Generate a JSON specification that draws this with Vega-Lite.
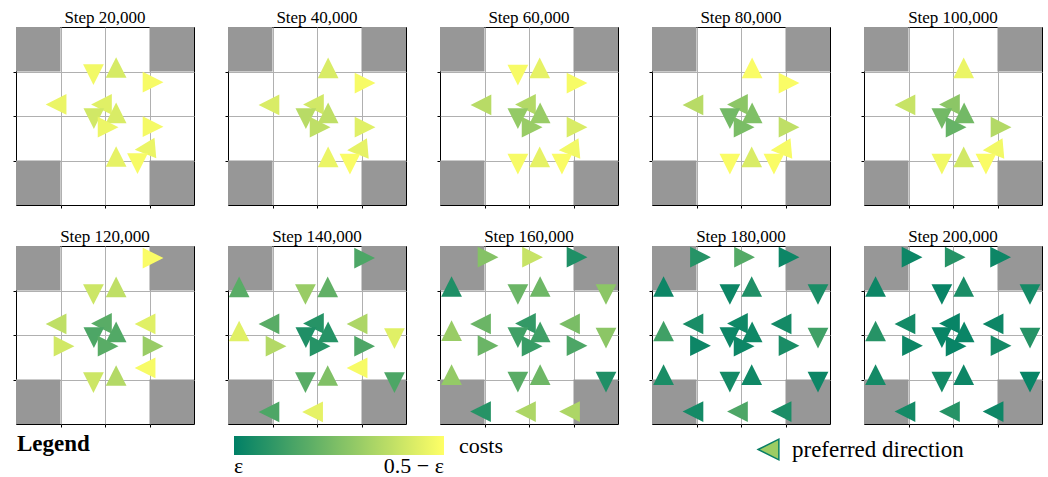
{
  "$schema": "https://vega.github.io/schema/vega-lite/v6.json",
  "padding": {"left": 12, "top": 7, "right": 5, "bottom": 5},
  "background": "white",
  "data": {"values": [
    {"panel":"Step 20,000","kind":"wall","x":0,"x2":1,"y":0,"y2":1},
    {"panel":"Step 20,000","kind":"wall","x":3,"x2":4,"y":0,"y2":1},
    {"panel":"Step 20,000","kind":"wall","x":0,"x2":1,"y":3,"y2":4},
    {"panel":"Step 20,000","kind":"wall","x":3,"x2":4,"y":3,"y2":4},
    {"panel":"Step 40,000","kind":"wall","x":0,"x2":1,"y":0,"y2":1},
    {"panel":"Step 40,000","kind":"wall","x":3,"x2":4,"y":0,"y2":1},
    {"panel":"Step 40,000","kind":"wall","x":0,"x2":1,"y":3,"y2":4},
    {"panel":"Step 40,000","kind":"wall","x":3,"x2":4,"y":3,"y2":4},
    {"panel":"Step 60,000","kind":"wall","x":0,"x2":1,"y":0,"y2":1},
    {"panel":"Step 60,000","kind":"wall","x":3,"x2":4,"y":0,"y2":1},
    {"panel":"Step 60,000","kind":"wall","x":0,"x2":1,"y":3,"y2":4},
    {"panel":"Step 60,000","kind":"wall","x":3,"x2":4,"y":3,"y2":4},
    {"panel":"Step 80,000","kind":"wall","x":0,"x2":1,"y":0,"y2":1},
    {"panel":"Step 80,000","kind":"wall","x":3,"x2":4,"y":0,"y2":1},
    {"panel":"Step 80,000","kind":"wall","x":0,"x2":1,"y":3,"y2":4},
    {"panel":"Step 80,000","kind":"wall","x":3,"x2":4,"y":3,"y2":4},
    {"panel":"Step 100,000","kind":"wall","x":0,"x2":1,"y":0,"y2":1},
    {"panel":"Step 100,000","kind":"wall","x":3,"x2":4,"y":0,"y2":1},
    {"panel":"Step 100,000","kind":"wall","x":0,"x2":1,"y":3,"y2":4},
    {"panel":"Step 100,000","kind":"wall","x":3,"x2":4,"y":3,"y2":4},
    {"panel":"Step 120,000","kind":"wall","x":0,"x2":1,"y":0,"y2":1},
    {"panel":"Step 120,000","kind":"wall","x":3,"x2":4,"y":0,"y2":1},
    {"panel":"Step 120,000","kind":"wall","x":0,"x2":1,"y":3,"y2":4},
    {"panel":"Step 120,000","kind":"wall","x":3,"x2":4,"y":3,"y2":4},
    {"panel":"Step 140,000","kind":"wall","x":0,"x2":1,"y":0,"y2":1},
    {"panel":"Step 140,000","kind":"wall","x":3,"x2":4,"y":0,"y2":1},
    {"panel":"Step 140,000","kind":"wall","x":0,"x2":1,"y":3,"y2":4},
    {"panel":"Step 140,000","kind":"wall","x":3,"x2":4,"y":3,"y2":4},
    {"panel":"Step 160,000","kind":"wall","x":0,"x2":1,"y":0,"y2":1},
    {"panel":"Step 160,000","kind":"wall","x":3,"x2":4,"y":0,"y2":1},
    {"panel":"Step 160,000","kind":"wall","x":0,"x2":1,"y":3,"y2":4},
    {"panel":"Step 160,000","kind":"wall","x":3,"x2":4,"y":3,"y2":4},
    {"panel":"Step 180,000","kind":"wall","x":0,"x2":1,"y":0,"y2":1},
    {"panel":"Step 180,000","kind":"wall","x":3,"x2":4,"y":0,"y2":1},
    {"panel":"Step 180,000","kind":"wall","x":0,"x2":1,"y":3,"y2":4},
    {"panel":"Step 180,000","kind":"wall","x":3,"x2":4,"y":3,"y2":4},
    {"panel":"Step 200,000","kind":"wall","x":0,"x2":1,"y":0,"y2":1},
    {"panel":"Step 200,000","kind":"wall","x":3,"x2":4,"y":0,"y2":1},
    {"panel":"Step 200,000","kind":"wall","x":0,"x2":1,"y":3,"y2":4},
    {"panel":"Step 200,000","kind":"wall","x":3,"x2":4,"y":3,"y2":4},

    {"panel":"Step 20,000","kind":"agent","x":1.74,"y":1.07,"angle":270,"cost":0.95},
    {"panel":"Step 20,000","kind":"agent","x":2.25,"y":0.91,"angle":90,"cost":0.84},
    {"panel":"Step 20,000","kind":"agent","x":3.08,"y":1.24,"angle":180,"cost":0.97},
    {"panel":"Step 20,000","kind":"agent","x":0.90,"y":1.74,"angle":0,"cost":0.92},
    {"panel":"Step 20,000","kind":"agent","x":1.92,"y":1.74,"angle":0,"cost":0.88},
    {"panel":"Step 20,000","kind":"agent","x":1.75,"y":2.06,"angle":270,"cost":0.82},
    {"panel":"Step 20,000","kind":"agent","x":2.25,"y":1.93,"angle":90,"cost":0.85},
    {"panel":"Step 20,000","kind":"agent","x":2.07,"y":2.25,"angle":180,"cost":0.93},
    {"panel":"Step 20,000","kind":"agent","x":3.08,"y":2.24,"angle":180,"cost":0.96},
    {"panel":"Step 20,000","kind":"agent","x":2.90,"y":2.74,"angle":355,"cost":0.92},
    {"panel":"Step 20,000","kind":"agent","x":2.25,"y":2.91,"angle":90,"cost":0.90},
    {"panel":"Step 20,000","kind":"agent","x":2.73,"y":3.07,"angle":270,"cost":0.97},

    {"panel":"Step 40,000","kind":"agent","x":2.25,"y":0.92,"angle":90,"cost":0.85},
    {"panel":"Step 40,000","kind":"agent","x":3.08,"y":1.26,"angle":180,"cost":0.97},
    {"panel":"Step 40,000","kind":"agent","x":0.92,"y":1.75,"angle":0,"cost":0.85},
    {"panel":"Step 40,000","kind":"agent","x":1.92,"y":1.74,"angle":0,"cost":0.82},
    {"panel":"Step 40,000","kind":"agent","x":1.75,"y":2.06,"angle":270,"cost":0.72},
    {"panel":"Step 40,000","kind":"agent","x":2.25,"y":1.93,"angle":90,"cost":0.75},
    {"panel":"Step 40,000","kind":"agent","x":2.07,"y":2.25,"angle":180,"cost":0.75},
    {"panel":"Step 40,000","kind":"agent","x":3.08,"y":2.25,"angle":180,"cost":0.88},
    {"panel":"Step 40,000","kind":"agent","x":2.91,"y":2.75,"angle":355,"cost":0.90},
    {"panel":"Step 40,000","kind":"agent","x":2.25,"y":2.92,"angle":90,"cost":0.92},
    {"panel":"Step 40,000","kind":"agent","x":2.74,"y":3.08,"angle":270,"cost":0.98},

    {"panel":"Step 60,000","kind":"agent","x":1.75,"y":1.08,"angle":270,"cost":0.97},
    {"panel":"Step 60,000","kind":"agent","x":2.24,"y":0.92,"angle":90,"cost":0.90},
    {"panel":"Step 60,000","kind":"agent","x":3.08,"y":1.26,"angle":180,"cost":0.97},
    {"panel":"Step 60,000","kind":"agent","x":0.92,"y":1.75,"angle":0,"cost":0.72},
    {"panel":"Step 60,000","kind":"agent","x":1.92,"y":1.74,"angle":0,"cost":0.70},
    {"panel":"Step 60,000","kind":"agent","x":1.75,"y":2.06,"angle":270,"cost":0.58},
    {"panel":"Step 60,000","kind":"agent","x":2.25,"y":1.93,"angle":90,"cost":0.60},
    {"panel":"Step 60,000","kind":"agent","x":2.07,"y":2.25,"angle":180,"cost":0.60},
    {"panel":"Step 60,000","kind":"agent","x":3.08,"y":2.25,"angle":180,"cost":0.85},
    {"panel":"Step 60,000","kind":"agent","x":2.90,"y":2.75,"angle":355,"cost":0.95},
    {"panel":"Step 60,000","kind":"agent","x":1.75,"y":3.08,"angle":270,"cost":0.97},
    {"panel":"Step 60,000","kind":"agent","x":2.24,"y":2.92,"angle":90,"cost":0.90},
    {"panel":"Step 60,000","kind":"agent","x":2.74,"y":3.08,"angle":270,"cost":0.98},

    {"panel":"Step 80,000","kind":"agent","x":2.25,"y":0.92,"angle":90,"cost":0.98},
    {"panel":"Step 80,000","kind":"agent","x":3.08,"y":1.26,"angle":180,"cost":0.98},
    {"panel":"Step 80,000","kind":"agent","x":0.92,"y":1.75,"angle":0,"cost":0.72},
    {"panel":"Step 80,000","kind":"agent","x":1.92,"y":1.74,"angle":0,"cost":0.55},
    {"panel":"Step 80,000","kind":"agent","x":1.75,"y":2.06,"angle":270,"cost":0.45},
    {"panel":"Step 80,000","kind":"agent","x":2.25,"y":1.93,"angle":90,"cost":0.50},
    {"panel":"Step 80,000","kind":"agent","x":2.07,"y":2.25,"angle":180,"cost":0.48},
    {"panel":"Step 80,000","kind":"agent","x":3.08,"y":2.25,"angle":180,"cost":0.75},
    {"panel":"Step 80,000","kind":"agent","x":2.90,"y":2.75,"angle":355,"cost":0.97},
    {"panel":"Step 80,000","kind":"agent","x":1.75,"y":3.08,"angle":270,"cost":0.98},
    {"panel":"Step 80,000","kind":"agent","x":2.24,"y":2.92,"angle":90,"cost":0.85},
    {"panel":"Step 80,000","kind":"agent","x":2.74,"y":3.08,"angle":270,"cost":0.98},

    {"panel":"Step 100,000","kind":"agent","x":2.24,"y":0.92,"angle":90,"cost":0.92},
    {"panel":"Step 100,000","kind":"agent","x":0.92,"y":1.75,"angle":0,"cost":0.78},
    {"panel":"Step 100,000","kind":"agent","x":1.92,"y":1.74,"angle":0,"cost":0.55},
    {"panel":"Step 100,000","kind":"agent","x":1.75,"y":2.06,"angle":270,"cost":0.45},
    {"panel":"Step 100,000","kind":"agent","x":2.25,"y":1.93,"angle":90,"cost":0.45},
    {"panel":"Step 100,000","kind":"agent","x":2.07,"y":2.25,"angle":180,"cost":0.40},
    {"panel":"Step 100,000","kind":"agent","x":3.08,"y":2.25,"angle":180,"cost":0.70},
    {"panel":"Step 100,000","kind":"agent","x":2.90,"y":2.75,"angle":355,"cost":0.95},
    {"panel":"Step 100,000","kind":"agent","x":1.75,"y":3.08,"angle":270,"cost":0.95},
    {"panel":"Step 100,000","kind":"agent","x":2.24,"y":2.92,"angle":90,"cost":0.82},
    {"panel":"Step 100,000","kind":"agent","x":2.74,"y":3.08,"angle":270,"cost":0.98},

    {"panel":"Step 120,000","kind":"agent","x":3.08,"y":0.27,"angle":180,"cost":0.98},
    {"panel":"Step 120,000","kind":"agent","x":1.74,"y":1.09,"angle":270,"cost":0.80},
    {"panel":"Step 120,000","kind":"agent","x":2.25,"y":0.92,"angle":90,"cost":0.75},
    {"panel":"Step 120,000","kind":"agent","x":0.90,"y":1.75,"angle":0,"cost":0.75},
    {"panel":"Step 120,000","kind":"agent","x":2.90,"y":1.75,"angle":0,"cost":0.88},
    {"panel":"Step 120,000","kind":"agent","x":1.92,"y":1.74,"angle":0,"cost":0.35},
    {"panel":"Step 120,000","kind":"agent","x":1.75,"y":2.06,"angle":270,"cost":0.30},
    {"panel":"Step 120,000","kind":"agent","x":2.25,"y":1.93,"angle":90,"cost":0.32},
    {"panel":"Step 120,000","kind":"agent","x":2.07,"y":2.25,"angle":180,"cost":0.35},
    {"panel":"Step 120,000","kind":"agent","x":1.08,"y":2.25,"angle":180,"cost":0.82},
    {"panel":"Step 120,000","kind":"agent","x":3.08,"y":2.25,"angle":180,"cost":0.60},
    {"panel":"Step 120,000","kind":"agent","x":2.90,"y":2.74,"angle":0,"cost":0.97},
    {"panel":"Step 120,000","kind":"agent","x":1.74,"y":3.07,"angle":270,"cost":0.80},
    {"panel":"Step 120,000","kind":"agent","x":2.25,"y":2.91,"angle":90,"cost":0.70},

    {"panel":"Step 140,000","kind":"agent","x":3.07,"y":0.27,"angle":180,"cost":0.30},
    {"panel":"Step 140,000","kind":"agent","x":0.25,"y":0.92,"angle":90,"cost":0.35},
    {"panel":"Step 140,000","kind":"agent","x":1.74,"y":1.09,"angle":270,"cost":0.60},
    {"panel":"Step 140,000","kind":"agent","x":2.24,"y":0.92,"angle":90,"cost":0.38},
    {"panel":"Step 140,000","kind":"agent","x":0.92,"y":1.75,"angle":0,"cost":0.35},
    {"panel":"Step 140,000","kind":"agent","x":2.90,"y":1.75,"angle":0,"cost":0.68},
    {"panel":"Step 140,000","kind":"agent","x":0.25,"y":1.91,"angle":90,"cost":0.88},
    {"panel":"Step 140,000","kind":"agent","x":3.74,"y":2.08,"angle":270,"cost":0.88},
    {"panel":"Step 140,000","kind":"agent","x":1.92,"y":1.74,"angle":0,"cost":0.15},
    {"panel":"Step 140,000","kind":"agent","x":1.75,"y":2.06,"angle":270,"cost":0.12},
    {"panel":"Step 140,000","kind":"agent","x":2.25,"y":1.93,"angle":90,"cost":0.15},
    {"panel":"Step 140,000","kind":"agent","x":2.07,"y":2.25,"angle":180,"cost":0.15},
    {"panel":"Step 140,000","kind":"agent","x":1.08,"y":2.25,"angle":180,"cost":0.70},
    {"panel":"Step 140,000","kind":"agent","x":3.07,"y":2.25,"angle":180,"cost":0.30},
    {"panel":"Step 140,000","kind":"agent","x":2.90,"y":2.74,"angle":0,"cost":0.97},
    {"panel":"Step 140,000","kind":"agent","x":1.74,"y":3.07,"angle":270,"cost":0.35},
    {"panel":"Step 140,000","kind":"agent","x":2.24,"y":2.91,"angle":90,"cost":0.50},
    {"panel":"Step 140,000","kind":"agent","x":3.74,"y":3.07,"angle":270,"cost":0.30},
    {"panel":"Step 140,000","kind":"agent","x":0.92,"y":3.73,"angle":0,"cost":0.30},
    {"panel":"Step 140,000","kind":"agent","x":1.90,"y":3.73,"angle":0,"cost":0.90},

    {"panel":"Step 160,000","kind":"agent","x":1.08,"y":0.25,"angle":180,"cost":0.52},
    {"panel":"Step 160,000","kind":"agent","x":2.08,"y":0.25,"angle":180,"cost":0.78},
    {"panel":"Step 160,000","kind":"agent","x":3.08,"y":0.25,"angle":180,"cost":0.12},
    {"panel":"Step 160,000","kind":"agent","x":0.26,"y":0.91,"angle":90,"cost":0.12},
    {"panel":"Step 160,000","kind":"agent","x":1.75,"y":1.09,"angle":270,"cost":0.42},
    {"panel":"Step 160,000","kind":"agent","x":2.25,"y":0.91,"angle":90,"cost":0.43},
    {"panel":"Step 160,000","kind":"agent","x":3.73,"y":1.09,"angle":270,"cost":0.55},
    {"panel":"Step 160,000","kind":"agent","x":0.91,"y":1.75,"angle":0,"cost":0.42},
    {"panel":"Step 160,000","kind":"agent","x":2.91,"y":1.75,"angle":0,"cost":0.48},
    {"panel":"Step 160,000","kind":"agent","x":0.26,"y":1.90,"angle":90,"cost":0.60},
    {"panel":"Step 160,000","kind":"agent","x":3.73,"y":2.07,"angle":270,"cost":0.55},
    {"panel":"Step 160,000","kind":"agent","x":1.92,"y":1.74,"angle":0,"cost":0.20},
    {"panel":"Step 160,000","kind":"agent","x":1.75,"y":2.06,"angle":270,"cost":0.25},
    {"panel":"Step 160,000","kind":"agent","x":2.25,"y":1.93,"angle":90,"cost":0.25},
    {"panel":"Step 160,000","kind":"agent","x":2.07,"y":2.25,"angle":180,"cost":0.22},
    {"panel":"Step 160,000","kind":"agent","x":1.08,"y":2.24,"angle":180,"cost":0.42},
    {"panel":"Step 160,000","kind":"agent","x":3.08,"y":2.24,"angle":180,"cost":0.30},
    {"panel":"Step 160,000","kind":"agent","x":0.26,"y":2.89,"angle":90,"cost":0.58},
    {"panel":"Step 160,000","kind":"agent","x":1.75,"y":3.06,"angle":270,"cost":0.35},
    {"panel":"Step 160,000","kind":"agent","x":2.25,"y":2.89,"angle":90,"cost":0.43},
    {"panel":"Step 160,000","kind":"agent","x":3.73,"y":3.06,"angle":270,"cost":0.12},
    {"panel":"Step 160,000","kind":"agent","x":0.91,"y":3.72,"angle":0,"cost":0.15},
    {"panel":"Step 160,000","kind":"agent","x":1.92,"y":3.72,"angle":0,"cost":0.68},
    {"panel":"Step 160,000","kind":"agent","x":2.91,"y":3.72,"angle":0,"cost":0.68},

    {"panel":"Step 180,000","kind":"agent","x":1.09,"y":0.25,"angle":180,"cost":0.15},
    {"panel":"Step 180,000","kind":"agent","x":2.08,"y":0.25,"angle":180,"cost":0.33},
    {"panel":"Step 180,000","kind":"agent","x":3.08,"y":0.25,"angle":180,"cost":0.05},
    {"panel":"Step 180,000","kind":"agent","x":0.26,"y":0.91,"angle":90,"cost":0.05},
    {"panel":"Step 180,000","kind":"agent","x":1.75,"y":1.09,"angle":270,"cost":0.05},
    {"panel":"Step 180,000","kind":"agent","x":2.24,"y":0.91,"angle":90,"cost":0.12},
    {"panel":"Step 180,000","kind":"agent","x":3.73,"y":1.09,"angle":270,"cost":0.10},
    {"panel":"Step 180,000","kind":"agent","x":0.92,"y":1.75,"angle":0,"cost":0.10},
    {"panel":"Step 180,000","kind":"agent","x":2.90,"y":1.75,"angle":0,"cost":0.08},
    {"panel":"Step 180,000","kind":"agent","x":0.26,"y":1.91,"angle":90,"cost":0.25},
    {"panel":"Step 180,000","kind":"agent","x":3.73,"y":2.07,"angle":270,"cost":0.25},
    {"panel":"Step 180,000","kind":"agent","x":1.92,"y":1.74,"angle":0,"cost":0.06},
    {"panel":"Step 180,000","kind":"agent","x":1.75,"y":2.06,"angle":270,"cost":0.05},
    {"panel":"Step 180,000","kind":"agent","x":2.25,"y":1.93,"angle":90,"cost":0.06},
    {"panel":"Step 180,000","kind":"agent","x":2.07,"y":2.25,"angle":180,"cost":0.05},
    {"panel":"Step 180,000","kind":"agent","x":1.09,"y":2.24,"angle":180,"cost":0.05},
    {"panel":"Step 180,000","kind":"agent","x":3.08,"y":2.24,"angle":180,"cost":0.10},
    {"panel":"Step 180,000","kind":"agent","x":0.26,"y":2.89,"angle":90,"cost":0.10},
    {"panel":"Step 180,000","kind":"agent","x":1.75,"y":3.06,"angle":270,"cost":0.08},
    {"panel":"Step 180,000","kind":"agent","x":2.24,"y":2.89,"angle":90,"cost":0.06},
    {"panel":"Step 180,000","kind":"agent","x":3.73,"y":3.06,"angle":270,"cost":0.05},
    {"panel":"Step 180,000","kind":"agent","x":0.92,"y":3.72,"angle":0,"cost":0.08},
    {"panel":"Step 180,000","kind":"agent","x":1.92,"y":3.72,"angle":0,"cost":0.30},
    {"panel":"Step 180,000","kind":"agent","x":2.90,"y":3.72,"angle":0,"cost":0.10},

    {"panel":"Step 200,000","kind":"agent","x":1.08,"y":0.25,"angle":180,"cost":0.05},
    {"panel":"Step 200,000","kind":"agent","x":2.05,"y":0.25,"angle":180,"cost":0.15},
    {"panel":"Step 200,000","kind":"agent","x":3.07,"y":0.25,"angle":180,"cost":0.05},
    {"panel":"Step 200,000","kind":"agent","x":0.26,"y":0.91,"angle":90,"cost":0.05},
    {"panel":"Step 200,000","kind":"agent","x":1.75,"y":1.09,"angle":270,"cost":0.03},
    {"panel":"Step 200,000","kind":"agent","x":2.24,"y":0.91,"angle":90,"cost":0.10},
    {"panel":"Step 200,000","kind":"agent","x":3.73,"y":1.09,"angle":270,"cost":0.08},
    {"panel":"Step 200,000","kind":"agent","x":0.92,"y":1.75,"angle":0,"cost":0.08},
    {"panel":"Step 200,000","kind":"agent","x":2.90,"y":1.75,"angle":0,"cost":0.05},
    {"panel":"Step 200,000","kind":"agent","x":0.26,"y":1.91,"angle":90,"cost":0.15},
    {"panel":"Step 200,000","kind":"agent","x":3.73,"y":2.07,"angle":270,"cost":0.15},
    {"panel":"Step 200,000","kind":"agent","x":1.92,"y":1.74,"angle":0,"cost":0.03},
    {"panel":"Step 200,000","kind":"agent","x":1.75,"y":2.06,"angle":270,"cost":0.03},
    {"panel":"Step 200,000","kind":"agent","x":2.25,"y":1.93,"angle":90,"cost":0.04},
    {"panel":"Step 200,000","kind":"agent","x":2.07,"y":2.25,"angle":180,"cost":0.03},
    {"panel":"Step 200,000","kind":"agent","x":1.09,"y":2.24,"angle":180,"cost":0.05},
    {"panel":"Step 200,000","kind":"agent","x":3.08,"y":2.24,"angle":180,"cost":0.08},
    {"panel":"Step 200,000","kind":"agent","x":0.26,"y":2.89,"angle":90,"cost":0.08},
    {"panel":"Step 200,000","kind":"agent","x":1.75,"y":3.06,"angle":270,"cost":0.08},
    {"panel":"Step 200,000","kind":"agent","x":2.24,"y":2.89,"angle":90,"cost":0.05},
    {"panel":"Step 200,000","kind":"agent","x":3.73,"y":3.06,"angle":270,"cost":0.03},
    {"panel":"Step 200,000","kind":"agent","x":0.92,"y":3.72,"angle":0,"cost":0.08},
    {"panel":"Step 200,000","kind":"agent","x":1.92,"y":3.72,"angle":0,"cost":0.15},
    {"panel":"Step 200,000","kind":"agent","x":2.90,"y":3.72,"angle":0,"cost":0.05}
  ]},
  "facet": {
    "field": "panel",
    "type": "nominal",
    "sort": ["Step 20,000","Step 40,000","Step 60,000","Step 80,000","Step 100,000","Step 120,000","Step 140,000","Step 160,000","Step 180,000","Step 200,000"],
    "header": {"title": null, "labelExpr": "''", "labelPadding": 0, "labelFontSize": 1}
  },
  "columns": 5,
  "spacing": {"row": 17, "column": 29},
  "resolve": {"axis": {"x": "independent", "y": "independent"}},
  "spec": {
    "width": 178,
    "height": 178,
    "layer": [
      {
        "transform": [{"filter": "datum.kind === 'wall'"}],
        "mark": {"type": "rect", "color": "#979797"},
        "encoding": {
          "x": {"field": "x", "type": "quantitative", "scale": {"domain": [0, 4], "nice": false, "zero": false},
                "axis": {"values": [1, 2, 3], "labels": false, "domain": false, "ticks": true, "tickSize": 3, "tickColor": "#000", "grid": true, "gridColor": "#b0b0b0", "gridWidth": 1, "title": null}},
          "x2": {"field": "x2"},
          "y": {"field": "y", "type": "quantitative", "scale": {"domain": [0, 4], "nice": false, "zero": false, "reverse": true},
                "axis": {"values": [1, 2, 3], "labels": false, "domain": false, "ticks": true, "tickSize": 3, "tickColor": "#000", "grid": true, "gridColor": "#b0b0b0", "gridWidth": 1, "title": null}},
          "y2": {"field": "y2"}
        }
      },
      {
        "transform": [{"filter": "datum.kind === 'wall' && datum.x === 0 && datum.y === 0"}],
        "mark": {"type": "text", "font": "Liberation Serif", "fontSize": 17, "fontWeight": "normal", "color": "#000", "align": "center", "baseline": "alphabetic", "clip": false},
        "encoding": {
          "x": {"datum": 2, "type": "quantitative"},
          "y": {"datum": -0.08, "type": "quantitative"},
          "text": {"field": "panel", "type": "nominal"}
        }
      },
      {
        "transform": [{"filter": "datum.kind === 'agent'"}],
        "mark": {"type": "point", "filled": true, "opacity": 1, "size": 430, "strokeWidth": 0},
        "encoding": {
          "x": {"field": "x", "type": "quantitative"},
          "y": {"field": "y", "type": "quantitative"},
          "angle": {"field": "angle", "type": "quantitative", "scale": null},
          "opacity": {"datum": "Legend", "type": "nominal", "scale": {"range": [1]},
                      "legend": {"orient": "none", "legendX": 1, "legendY": 406, "title": "Legend",
                                 "titleFont": "Liberation Serif", "titleFontSize": 23, "titleFontWeight": "bold", "titleColor": "#000",
                                 "symbolOpacity": 0, "symbolSize": 0, "labelExpr": "''", "labelFontSize": 1}},
          "shape": {"datum": "preferred direction", "type": "nominal",
                    "scale": {"range": ["M-1,0L1,-1L1,1Z"]},
                    "legend": {"orient": "none", "legendX": 741, "legendY": 411, "title": null, "symbolSize": 430,
                               "labelFont": "Liberation Serif", "labelFontSize": 23, "labelColor": "#000", "labelOffset": 12, "labelLimit": 400,
                               "symbolStrokeWidth": 1.5, "symbolStrokeColor": "#0a7f66", "symbolOpacity": 1,
                               "symbolFillColor": "#9ccc64"}},
          "color": {"field": "cost", "type": "quantitative",
                    "scale": {"domain": [0, 1], "range": ["#008066", "#ffff66"], "interpolate": "rgb"},
                    "legend": {"orient": "none", "legendX": 218, "legendY": 409, "direction": "horizontal",
                               "gradientLength": 210, "gradientThickness": 19, "gradientStrokeWidth": 0,
                               "values": [0, 1], "labelExpr": "datum.value == 0 ? 'ε' : '0.5 − ε'",
                               "labelFont": "Liberation Serif", "labelFontSize": 22, "labelColor": "#000", "labelOffset": 1,
                               "title": "costs", "titleOrient": "right", "titleFont": "Liberation Serif", "titleFontSize": 22,
                               "titleFontWeight": "normal", "titleColor": "#000", "titlePadding": 15}}
        }
      }
    ]
  },
  "config": {
    "view": {"stroke": "#000", "strokeWidth": 1},
    "font": "Liberation Serif"
  }
}
